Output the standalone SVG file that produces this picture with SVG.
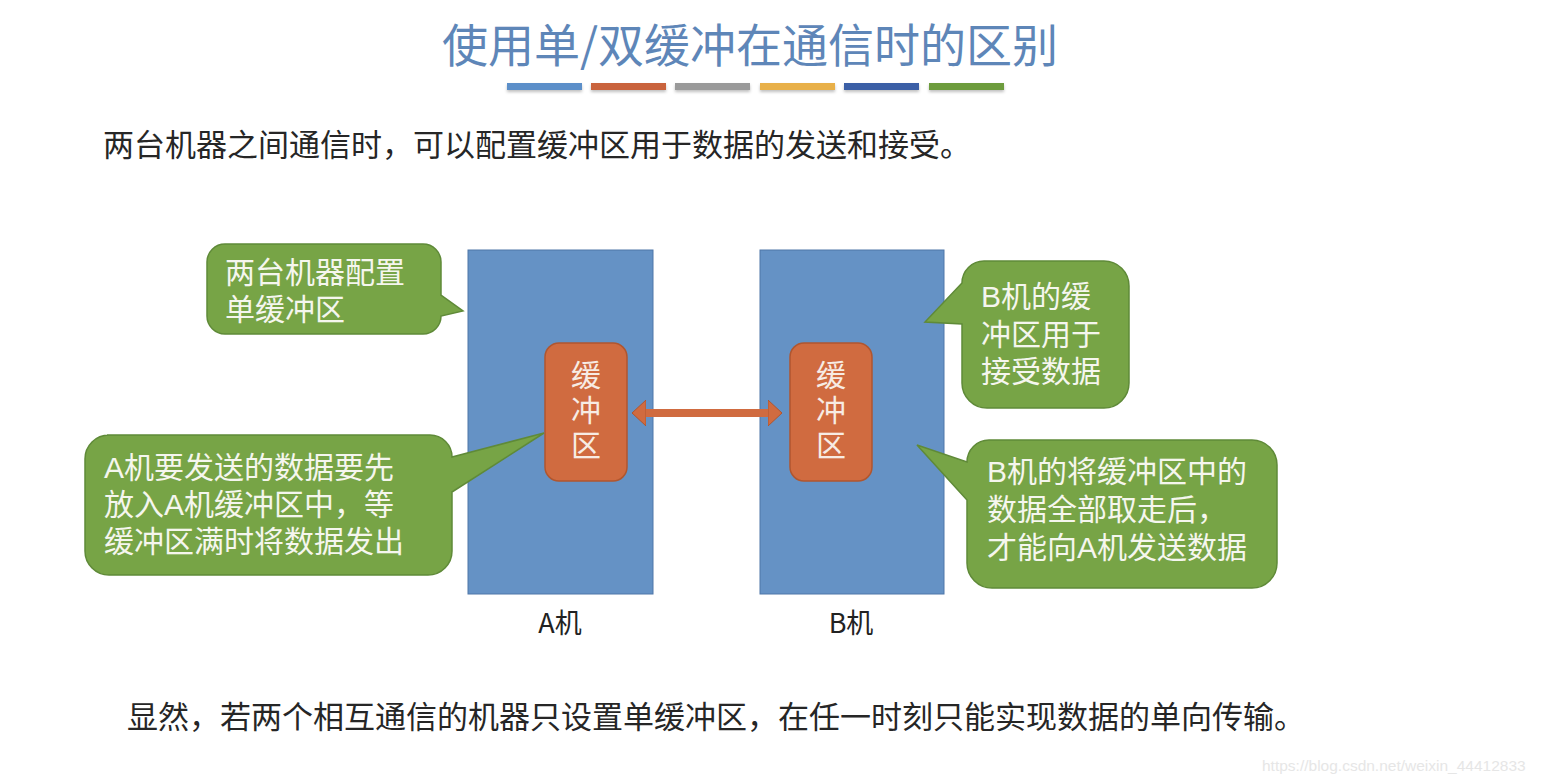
<svg xmlns="http://www.w3.org/2000/svg" width="1542" height="782" viewBox="0 0 1542 782">
<style>
.cjk{font-family:"Noto Sans CJK SC","Noto Sans CJK JP",sans-serif}
.lat{font-family:"Liberation Sans","Noto Sans CJK SC",sans-serif}
.body{font-size:31px;fill:#262626}
.call{fill:#77a446;stroke:#5f8a38;stroke-width:1.5}
.ctext{font-size:30px;fill:#f5f6ee}
.machine{fill:#6592c5;stroke:#4f76a8;stroke-width:1}
.buf{fill:#d06b40;stroke:#b0562f;stroke-width:1.5}
.btext{font-size:30px;fill:#f7ece4;writing-mode:vertical-rl;letter-spacing:5px}
.lbl{font-size:27px;fill:#222}
</style>
<defs>
<marker id="head" markerUnits="userSpaceOnUse" markerWidth="14" markerHeight="26" viewBox="0 0 14 26" refX="0" refY="13" orient="auto-start-reverse">
<path d="M0,0 L14,13 L0,26 Z" fill="#d06b40" stroke="#b0562f" stroke-width="1"/>
</marker>
<filter id="sh" x="-10%" y="-50%" width="120%" height="250%"><feDropShadow dx="0" dy="2" stdDeviation="1.5" flood-color="#000" flood-opacity="0.25"/></filter>
</defs>
<rect width="1542" height="782" fill="#ffffff"/>
<g id="title">
<text x="750" y="62" class="cjk" font-size="46" fill="#5e86b8" text-anchor="middle">使用单/双缓冲在通信时的区别</text>
<g filter="url(#sh)">
<rect x="507" y="83" width="75" height="7" fill="#5b8fc9"/>
<rect x="591" y="83" width="75" height="7" fill="#c9643c"/>
<rect x="675" y="83" width="75" height="7" fill="#9a9a9a"/>
<rect x="760" y="83" width="75" height="7" fill="#e8b04a"/>
<rect x="844" y="83" width="75" height="7" fill="#3b5ea6"/>
<rect x="929" y="83" width="75" height="7" fill="#6d9c3e"/>
</g>
</g>
<text x="103" y="156" class="cjk body">两台机器之间通信时，可以配置缓冲区用于数据的发送和接受。</text>
<g id="machineA">
<rect x="468" y="250" width="185" height="344" class="machine"/>
<text x="560" y="633" class="cjk lbl" text-anchor="middle">A机</text>
</g>
<g id="machineB">
<rect x="760" y="250" width="184" height="344" class="machine"/>
<text x="851" y="633" class="cjk lbl" text-anchor="middle">B机</text>
</g>
<g id="bufferA">
<rect x="545" y="343" width="82" height="138" rx="14" class="buf"/>
<text x="586" y="360" class="cjk btext">缓冲区</text>
</g>
<g id="bufferB">
<rect x="790" y="343" width="82" height="138" rx="14" class="buf"/>
<text x="831" y="360" class="cjk btext">缓冲区</text>
</g>
<g id="connectors">
<line x1="646" y1="413" x2="768" y2="413" stroke="#d06b40" stroke-width="8" marker-start="url(#head)" marker-end="url(#head)"/>
</g>
<g id="callout1">
<path class="call" d="M225,244 H423 A18,18 0 0 1 441,262 V295 L463,311 L441,316 A18,18 0 0 1 423,334 H225 A18,18 0 0 1 207,316 V262 A18,18 0 0 1 225,244 Z"/>
<text class="lat ctext"><tspan x="225" y="283">两台机器配置</tspan><tspan x="225" y="320">单缓冲区</tspan></text>
</g>
<g id="callout2">
<path class="call" d="M107,435 H430 A22,22 0 0 1 452,457 L544,433 L452,492 V551 A24,24 0 0 1 428,575 H109 A24,24 0 0 1 85,551 V459 A24,24 0 0 1 109,435 Z"/>
<text class="lat ctext"><tspan x="104" y="478">A机要发送的数据要先</tspan><tspan x="104" y="515">放入A机缓冲区中，等</tspan><tspan x="104" y="552">缓冲区满时将数据发出</tspan></text>
</g>
<g id="callout3">
<path class="call" d="M984,261 H1104 A25,25 0 0 1 1129,286 V383 A25,25 0 0 1 1104,408 H987 A25,25 0 0 1 962,383 V324 L925,322 L962,283 A22,22 0 0 1 984,261 Z"/>
<text class="lat ctext"><tspan x="981" y="307">B机的缓</tspan><tspan x="981" y="345">冲区用于</tspan><tspan x="981" y="382">接受数据</tspan></text>
</g>
<g id="callout4">
<path class="call" d="M989,440 H1252 A25,25 0 0 1 1277,465 V563 A25,25 0 0 1 1252,588 H992 A25,25 0 0 1 967,563 V500 L917,445 L967,462 A22,22 0 0 1 989,440 Z"/>
<text class="lat ctext"><tspan x="987" y="482">B机的将缓冲区中的</tspan><tspan x="987" y="520">数据全部取走后，</tspan><tspan x="987" y="558">才能向A机发送数据</tspan></text>
</g>
<text x="127" y="728" class="cjk body">显然，若两个相互通信的机器只设置单缓冲区，在任一时刻只能实现数据的单向传输。</text>
<text x="1262" y="771" font-family="Liberation Sans, sans-serif" font-size="15.5" fill="#e6e6e6">https://blog.csdn.net/weixin_44412833</text>
</svg>
